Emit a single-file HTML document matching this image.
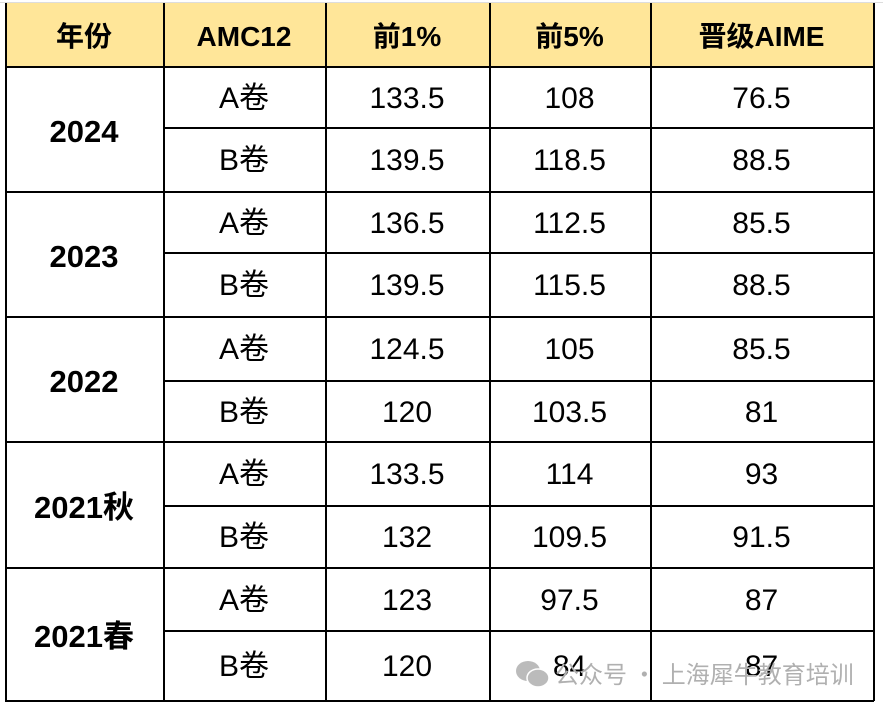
<!DOCTYPE html>
<html><head><meta charset="utf-8"><style>
body{margin:0;width:883px;height:707px;background:#fff;position:relative;overflow:hidden;font-family:"Liberation Sans","Noto Sans CJK SC",sans-serif;}
.h{position:absolute;left:5px;top:3px;width:868px;height:63px;background:#FFE699;}
.l{position:absolute;background:#000;}
.t{position:absolute;display:flex;align-items:center;justify-content:center;color:#000;line-height:1;}
.hd{font-weight:bold;font-size:28px;}
.b{font-size:30px;}
.y{font-weight:bold;font-size:31px;}
.wm{position:absolute;left:555px;top:655px;font-size:24px;color:#b0b0b0;white-space:nowrap;font-family:"Noto Sans CJK SC",sans-serif;}
</style></head><body>
<div style="position:absolute;left:0;top:2px;width:883px;height:1px;background:#ddd"></div>
<div class="h"></div>
<div id="g"></div>
<svg style="position:absolute;left:515px;top:658px" width="36" height="32"><ellipse cx="13" cy="13" rx="12" ry="10" fill="#bbb"/><ellipse cx="23" cy="20" rx="11" ry="9" fill="#bbb" stroke="#fff" stroke-width="1.5"/></svg>
<div class="wm">公众号 · 上海犀牛教育培训</div>
<script>
var ys=[66,127,191,252,316,380,441,505,567,630,700];
var xs=[5,163,325,489,650,873];
var H='';
xs.forEach(function(x){H+='<div class="l" style="left:'+x+'px;top:3px;width:1.5px;height:698px"></div>';});
H+='<div class="l" style="left:5px;top:'+ys[0]+'px;width:869px;height:1.5px"></div>';
for(var i=1;i<ys.length;i++){var full=(i%2==0);H+='<div class="l" style="left:'+(full?5:163)+'px;top:'+ys[i]+'px;width:'+(full?869:711)+'px;height:1.5px"></div>';}
var hdr=['年份','AMC12','前1%','前5%','晋级AIME'];
for(var c=0;c<5;c++)H+='<div class="t hd" style="left:'+xs[c]+'px;width:'+(xs[c+1]-xs[c])+'px;top:5px;height:63px">'+hdr[c]+'</div>';
var yrs=['2024','2023','2022','2021秋','2021春'];
var d=[['A卷','133.5','108','76.5'],['B卷','139.5','118.5','88.5'],['A卷','136.5','112.5','85.5'],['B卷','139.5','115.5','88.5'],['A卷','124.5','105','85.5'],['B卷','120','103.5','81'],['A卷','133.5','114','93'],['B卷','132','109.5','91.5'],['A卷','123','97.5','87'],['B卷','120','84','87']];
for(var g=0;g<5;g++){var t=ys[2*g],b=ys[2*g+2];H+='<div class="t y" style="left:5px;width:158px;top:'+(t+3)+'px;height:'+(b-t)+'px">'+yrs[g]+'</div>';}
for(var r=0;r<10;r++){var t=ys[r],b=ys[r+1];for(var c=0;c<4;c++)H+='<div class="t b" style="left:'+xs[c+1]+'px;width:'+(xs[c+2]-xs[c+1])+'px;top:'+(t+2)+'px;height:'+(b-t)+'px">'+d[r][c]+'</div>';}
document.getElementById('g').innerHTML=H;
</script>
</body></html>
